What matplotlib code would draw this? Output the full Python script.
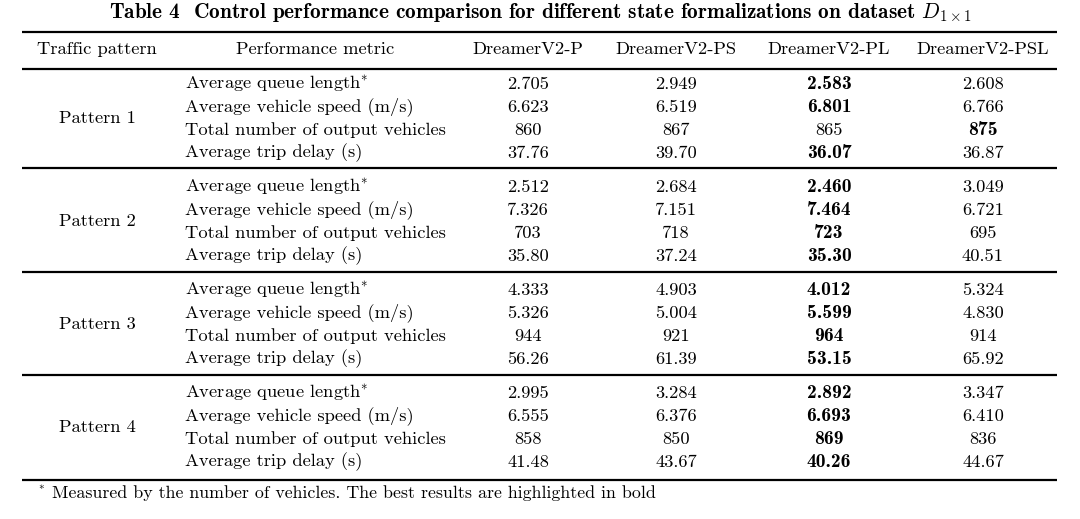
import matplotlib
matplotlib.use("Agg")
import matplotlib.pyplot as plt

# ---------------------------------------------------------------------------
# Table data
# ---------------------------------------------------------------------------
patterns = ["Pattern 1", "Pattern 2", "Pattern 3", "Pattern 4"]
metrics = ["Average queue length", "Average vehicle speed (m/s)",
           "Total number of output vehicles", "Average trip delay (s)"]
metric_better = ["min", "max", "max", "min"]
methods = ["DreamerV2-P", "DreamerV2-PS", "DreamerV2-PL", "DreamerV2-PSL"]

queue_len = [
    ["2.705", "2.949", "2.583", "2.608"],
    ["2.512", "2.684", "2.460", "3.049"],
    ["4.333", "4.903", "4.012", "5.324"],
    ["2.995", "3.284", "2.892", "3.347"],
]
speed = [
    ["6.623", "6.519", "6.801", "6.766"],
    ["7.326", "7.151", "7.464", "6.721"],
    ["5.326", "5.004", "5.599", "4.830"],
    ["6.555", "6.376", "6.693", "6.410"],
]
out_vehicles = [
    ["860", "867", "865", "875"],
    ["703", "718", "723", "695"],
    ["944", "921", "964", "914"],
    ["858", "850", "869", "836"],
]
trip_delay = [
    ["37.76", "39.70", "36.07", "36.87"],
    ["35.80", "37.24", "35.30", "40.51"],
    ["56.26", "61.39", "53.15", "65.92"],
    ["41.48", "43.67", "40.26", "44.67"],
]
metric_values = [queue_len, speed, out_vehicles, trip_delay]

title = r"Table 4  Control performance comparison for different state formalizations on dataset $D_{1\times 1}$"
footnote = "Measured by the number of vehicles. The best results are highlighted in bold"

# ---------------------------------------------------------------------------
# Layout (pixel coordinates)
# ---------------------------------------------------------------------------
plt.rcParams['mathtext.fontset'] = 'cm'
plt.rcParams['axes.unicode_minus'] = False
REG, BOLD = 'cmr10', 'cmb10'
FS = 13.3

fig = plt.figure(figsize=(10.8, 5.19), dpi=100)
ax = fig.add_axes([0, 0, 1, 1])
ax.set_xlim(0, 1080)
ax.set_ylim(519, 0)
ax.set_axis_off()

x_left, x_right = 22, 1057
x_pattern = 97
x_metric = 185
x_metric_head = 315
x_cols = [528, 676, 829, 983]
rule_ys = [32, 69, 168, 272, 375, 480]
row_y0 = [84, 187, 290, 393]
row_step = 23

ax.text(540, 13, title, ha='center', va='center', fontsize=15.3,
        family=BOLD)

for y in rule_ys:
    ax.plot([x_left, x_right], [y, y], color='black', lw=1.6,
            solid_capstyle='butt')

ax.text(x_pattern, 49, "Traffic pattern", ha='center', va='center',
        fontsize=FS, family=REG)
ax.text(x_metric_head, 49, "Performance metric", ha='center', va='center',
        fontsize=FS, family=REG)
for x, m in zip(x_cols, methods):
    ax.text(x, 49, m, ha='center', va='center', fontsize=FS, family=REG)

for p, pat in enumerate(patterns):
    y0 = row_y0[p]
    ax.text(x_pattern, y0 + 1.5 * row_step, pat, ha='center', va='center',
            fontsize=FS, family=REG)
    for r, metric in enumerate(metrics):
        y = y0 + r * row_step
        label = metric + (r"$^{*}$" if r == 0 else "")
        ax.text(x_metric, y, label, ha='left', va='center', fontsize=FS,
                family=REG)
        vals = metric_values[r][p]
        nums = [float(v) for v in vals]
        best = min(nums) if metric_better[r] == "min" else max(nums)
        for x, v, n in zip(x_cols, vals, nums):
            if n == best:
                ax.text(x, y, v, ha='center', va='center', fontsize=FS * 1.06,
                        family=BOLD)
            else:
                ax.text(x, y, v, ha='center', va='center', fontsize=FS,
                        family=REG)

ax.text(38, 490, r"$^{*}$", ha='left', va='center', fontsize=11.5, family=REG)
ax.text(52, 493, footnote, ha='left', va='center', fontsize=12.9, family=REG)

fig.savefig("out.png", dpi=100)
